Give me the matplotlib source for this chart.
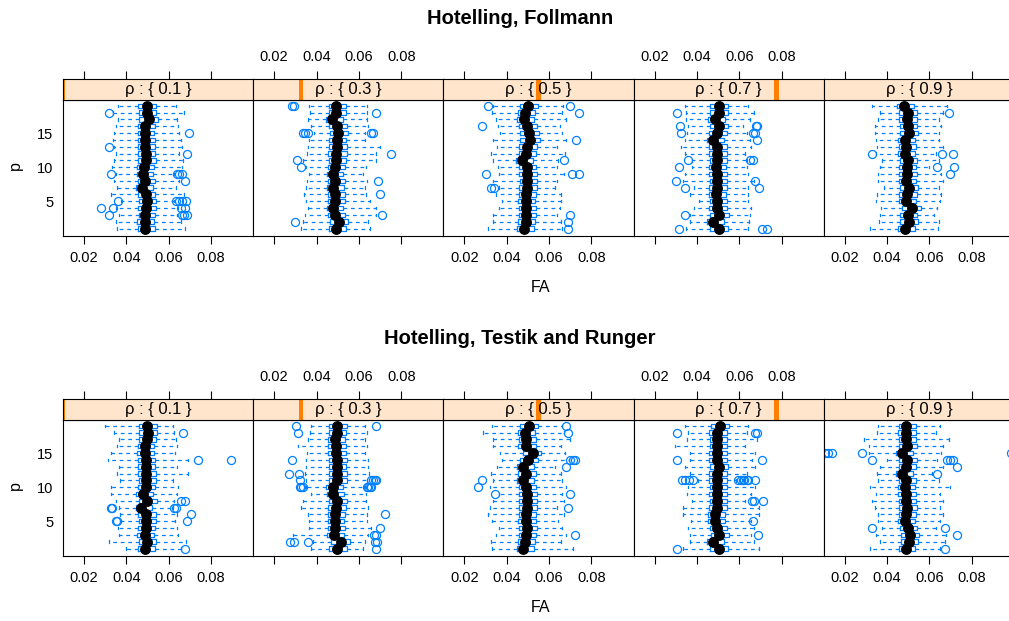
import matplotlib
matplotlib.use("Agg")
import matplotlib.pyplot as plt
from matplotlib.patches import Rectangle

plt.rcParams["font.family"] = ["Liberation Sans", "DejaVu Sans"]

# ── data: false-alarm rate (FA) per dimension p, one list per rho panel ──────

P = list(range(1, 20))
RHO = ["0.1", "0.3", "0.5", "0.7", "0.9"]
TITLES = ["Hotelling, Follmann", "Hotelling, Testik and Runger"]
XTICKS = [0.02, 0.04, 0.06, 0.08]
YTICKS = [5, 10, 15]

# Follmann
FOLL_MED = [
    [.0487, .0487, .0489, .0491, .0497, .0491, .0473, .0489, .0478, .0484, .0491, .0491, .0487, .0487, .0487, .0489, .0506, .0497, .0497],
    [.0494, .0506, .0486, .0478, .0486, .0486, .0478, .0486, .0478, .0486, .0491, .0494, .0497, .0497, .0502, .0497, .0475, .0494, .0494],
    [.0481, .0489, .0489, .0491, .0489, .0491, .0497, .0497, .0497, .0494, .0470, .0491, .0497, .0509, .0506, .0497, .0481, .0486, .0502],
    [.0502, .0478, .0506, .0497, .0497, .0491, .0497, .0497, .0497, .0491, .0497, .0497, .0497, .0478, .0494, .0502, .0486, .0502, .0502],
    [.0486, .0502, .0498, .0517, .0489, .0494, .0502, .0489, .0494, .0494, .0498, .0483, .0489, .0486, .0502, .0498, .0494, .0498, .0478],
]
FOLL_Q1 = [
    [.0455, .0452, .0458, .0456, .0460, .0455, .0448, .0456, .0452, .0450, .0457, .0455, .0453, .0455, .0454, .0456, .0462, .0458, .0455],
    [.0458, .0463, .0452, .0448, .0455, .0453, .0450, .0452, .0448, .0455, .0458, .0456, .0460, .0458, .0462, .0457, .0446, .0457, .0458],
    [.0450, .0455, .0456, .0457, .0455, .0458, .0460, .0462, .0460, .0457, .0445, .0456, .0458, .0465, .0463, .0460, .0448, .0452, .0462],
    [.0462, .0448, .0463, .0458, .0460, .0455, .0458, .0460, .0457, .0455, .0460, .0456, .0458, .0447, .0455, .0463, .0452, .0460, .0462],
    [.0452, .0462, .0460, .0470, .0455, .0458, .0462, .0455, .0458, .0456, .0460, .0450, .0455, .0452, .0463, .0460, .0456, .0458, .0446],
]
FOLL_Q3 = [
    [.0535, .0532, .0536, .0538, .0540, .0535, .0525, .0536, .0528, .0532, .0538, .0537, .0534, .0535, .0533, .0537, .0548, .0542, .0540],
    [.0540, .0548, .0533, .0527, .0533, .0535, .0528, .0533, .0527, .0534, .0540, .0545, .0544, .0540, .0547, .0542, .0525, .0540, .0538],
    [.0528, .0535, .0536, .0538, .0534, .0537, .0543, .0545, .0542, .0540, .0522, .0538, .0543, .0555, .0550, .0543, .0530, .0534, .0546],
    [.0547, .0528, .0550, .0543, .0540, .0537, .0542, .0544, .0541, .0537, .0543, .0540, .0542, .0526, .0540, .0547, .0533, .0545, .0546],
    [.0532, .0547, .0543, .0560, .0535, .0540, .0547, .0535, .0540, .0538, .0543, .0530, .0535, .0532, .0548, .0543, .0540, .0543, .0525],
]
FOLL_LO = [
    [.0356, .0352, .0365, .0352, .0376, .0329, .0356, .0344, .0352, .0334, .0340, .0349, .0344, .0337, .0344, .0349, .0360, .0337, .0360],
    [.0329, .0337, .0344, .0360, .0352, .0340, .0349, .0356, .0365, .0352, .0337, .0356, .0360, .0365, .0387, .0376, .0360, .0371, .0365],
    [.0313, .0334, .0334, .0365, .0376, .0349, .0365, .0337, .0365, .0360, .0337, .0324, .0356, .0337, .0368, .0360, .0349, .0329, .0337],
    [.0349, .0365, .0365, .0384, .0412, .0365, .0384, .0334, .0344, .0376, .0376, .0344, .0324, .0344, .0352, .0360, .0349, .0349, .0344],
    [.0321, .0360, .0368, .0373, .0348, .0352, .0384, .0357, .0357, .0368, .0376, .0348, .0352, .0348, .0341, .0341, .0357, .0368, .0329],
]
FOLL_HI = [
    [.0679, .0659, .0638, .0643, .0627, .0670, .0635, .0651, .0627, .0663, .0666, .0651, .0663, .0659, .0651, .0643, .0638, .0670, .0635],
    [.0654, .0643, .0682, .0679, .0651, .0635, .0627, .0638, .0619, .0635, .0679, .0682, .0701, .0627, .0627, .0643, .0638, .0638, .0638],
    [.0659, .0654, .0635, .0651, .0654, .0654, .0627, .0635, .0670, .0638, .0643, .0674, .0635, .0682, .0659, .0651, .0679, .0663, .0666],
    [.0643, .0648, .0651, .0654, .0643, .0643, .0643, .0670, .0643, .0638, .0635, .0627, .0654, .0651, .0638, .0619, .0651, .0670, .0643],
    [.0640, .0646, .0619, .0635, .0651, .0655, .0646, .0666, .0655, .0596, .0646, .0630, .0662, .0643, .0646, .0655, .0646, .0662, .0682],
]
FOLL_OUT = [
    {3: [.0318, .0663, .0674, .0685], 4: [.0279, .0337, .0659, .0679], 5: [.0360, .0635, .0648, .0663, .0683],
     8: [.0678], 9: [.0329, .0640, .0651, .0663], 12: [.0687], 13: [.0318], 15: [.0698], 18: [.0318]},
    {2: [.0300], 3: [.0709], 6: [.0698], 8: [.0690], 10: [.0329], 11: [.0310], 12: [.0750],
     15: [.0337, .0344, .0360, .0659, .0666], 18: [.0679], 19: [.0286, .0294]},
    {1: [.0690], 2: [.0690], 3: [.0701], 7: [.0324, .0340], 9: [.0302, .0710, .0742], 11: [.0670],
     14: [.0726], 16: [.0282], 18: [.0742], 19: [.0313, .0701]},
    {1: [.0313, .0706, .0729], 3: [.0345], 7: [.0345, .0695], 8: [.0302, .0674], 10: [.0313],
     11: [.0356, .0651, .0663], 14: [.0682], 15: [.0324, .0663, .0672], 16: [.0321, .0679, .0685], 18: [.0305]},
    {9: [.0698], 10: [.0635, .0718], 12: [.0329, .0659, .0709], 18: [.0690]},
]

# Testik and Runger
TR_MED = [
    [.0486, .0497, .0486, .0491, .0494, .0494, .0470, .0497, .0478, .0491, .0494, .0494, .0491, .0491, .0486, .0486, .0497, .0502, .0497],
    [.0497, .0517, .0481, .0486, .0486, .0486, .0491, .0497, .0478, .0478, .0497, .0497, .0497, .0497, .0494, .0491, .0486, .0497, .0497],
    [.0475, .0486, .0491, .0497, .0491, .0491, .0497, .0497, .0497, .0491, .0478, .0491, .0478, .0502, .0522, .0491, .0491, .0486, .0506],
    [.0506, .0478, .0506, .0497, .0486, .0486, .0497, .0497, .0494, .0497, .0497, .0497, .0502, .0494, .0497, .0497, .0497, .0497, .0509],
    [.0489, .0505, .0509, .0498, .0483, .0489, .0494, .0489, .0489, .0486, .0489, .0470, .0489, .0494, .0470, .0494, .0489, .0489, .0489],
]
TR_Q1 = [
    [.0455, .0460, .0452, .0456, .0458, .0457, .0446, .0460, .0448, .0455, .0458, .0457, .0455, .0456, .0452, .0453, .0460, .0462, .0458],
    [.0460, .0470, .0450, .0453, .0452, .0455, .0456, .0460, .0448, .0447, .0458, .0460, .0458, .0460, .0456, .0455, .0452, .0458, .0460],
    [.0448, .0455, .0456, .0460, .0455, .0456, .0460, .0460, .0458, .0456, .0448, .0455, .0448, .0462, .0475, .0455, .0456, .0452, .0463],
    [.0463, .0447, .0465, .0460, .0452, .0452, .0458, .0460, .0457, .0460, .0458, .0458, .0463, .0456, .0458, .0460, .0460, .0458, .0466],
    [.0455, .0465, .0467, .0460, .0450, .0455, .0457, .0455, .0453, .0452, .0455, .0440, .0455, .0458, .0440, .0458, .0455, .0453, .0455],
]
TR_Q3 = [
    [.0535, .0542, .0532, .0537, .0540, .0538, .0522, .0543, .0528, .0536, .0540, .0538, .0536, .0537, .0533, .0532, .0542, .0545, .0543],
    [.0543, .0557, .0528, .0533, .0532, .0535, .0537, .0542, .0528, .0526, .0542, .0543, .0540, .0543, .0540, .0537, .0533, .0540, .0543],
    [.0528, .0533, .0537, .0542, .0537, .0538, .0542, .0543, .0541, .0538, .0527, .0536, .0527, .0546, .0560, .0538, .0537, .0532, .0548],
    [.0548, .0528, .0550, .0543, .0533, .0532, .0542, .0542, .0540, .0543, .0543, .0543, .0547, .0540, .0542, .0543, .0543, .0542, .0552],
    [.0533, .0548, .0550, .0543, .0530, .0535, .0540, .0535, .0535, .0532, .0535, .0520, .0535, .0540, .0520, .0540, .0535, .0535, .0535],
]
TR_LO = [
    [.0399, .0318, .0365, .0360, .0376, .0371, .0365, .0349, .0329, .0329, .0371, .0356, .0365, .0313, .0329, .0356, .0365, .0344, .0297],
    [.0376, .0384, .0290, .0365, .0365, .0360, .0329, .0337, .0376, .0349, .0349, .0344, .0352, .0349, .0356, .0313, .0360, .0368, .0376],
    [.0329, .0324, .0349, .0365, .0329, .0313, .0321, .0337, .0365, .0321, .0337, .0324, .0356, .0376, .0368, .0334, .0334, .0290, .0329],
    [.0334, .0368, .0365, .0356, .0371, .0334, .0334, .0376, .0352, .0360, .0407, .0368, .0344, .0365, .0365, .0297, .0352, .0356, .0344],
    [.0321, .0368, .0348, .0376, .0357, .0357, .0344, .0329, .0348, .0321, .0357, .0352, .0368, .0399, .0313, .0316, .0290, .0352, .0357],
]
TR_HI = [
    [.0659, .0682, .0643, .0638, .0632, .0638, .0619, .0627, .0638, .0643, .0619, .0690, .0638, .0690, .0632, .0638, .0635, .0627, .0622],
    [.0619, .0627, .0643, .0659, .0638, .0638, .0643, .0635, .0635, .0627, .0638, .0648, .0643, .0643, .0627, .0638, .0627, .0638, .0627],
    [.0714, .0654, .0679, .0659, .0643, .0670, .0638, .0670, .0663, .0679, .0663, .0654, .0627, .0695, .0674, .0654, .0698, .0670, .0659],
    [.0695, .0670, .0654, .0670, .0654, .0695, .0695, .0627, .0654, .0674, .0585, .0635, .0674, .0659, .0674, .0627, .0682, .0635, .0643],
    [.0651, .0674, .0677, .0630, .0651, .0662, .0651, .0662, .0651, .0698, .0646, .0612, .0662, .0635, .0655, .0662, .0690, .0630, .0651],
]
TR_OUT = [
    {1: [.0679], 5: [.0349, .0356, .0685], 6: [.0706], 7: [.0329, .0334, .0627, .0635], 8: [.0659, .0679],
     14: [.0737, .0894], 18: [.0667]},
    {1: [.0679], 2: [.0277, .0293, .0360, .0674, .0685], 3: [.0670, .0679], 4: [.0701], 6: [.0721],
     10: [.0321, .0329, .0334, .0638, .0643, .0651, .0659], 11: [.0321, .0659, .0666, .0674, .0682],
     12: [.0271, .0318], 14: [.0282], 18: [.0313], 19: [.0302, .0679]},
    {3: [.0721], 7: [.0690], 9: [.0345, .0701], 10: [.0266], 11: [.0282], 13: [.0679],
     14: [.0701, .0714, .0721], 18: [.0690], 19: [.0679]},
    {1: [.0305], 3: [.0690], 5: [.0663], 8: [.0659, .0670, .0714],
     11: [.0329, .0345, .0363, .0381, .0596, .0608, .0617, .0624, .0635, .0642, .0674],
     14: [.0305, .0706], 18: [.0305, .0674, .0682]},
    {1: [.0671], 3: [.0729], 4: [.0329, .0671], 12: [.0635], 13: [.0729],
     14: [.0329, .0682, .0698, .0709], 15: [.0106, .0121, .0140, .0279, .0985]},
]

GROUPS = [
    (FOLL_LO, FOLL_Q1, FOLL_MED, FOLL_Q3, FOLL_HI, FOLL_OUT),
    (TR_LO, TR_Q1, TR_MED, TR_Q3, TR_HI, TR_OUT),
]

# ── styling ──────────────────────────────────────────────────────────────────

W, H = 1009, 621
BLUE = "#0080ff"
STRIP_BG = "#ffe5cc"
ORANGE = "#ff7f00"
XLIM = (0.0101, 0.0999)
YLIM = (-0.1, 19.85)

PANEL_X0 = 63
PANEL_W = 190.2
GROUP_DY = 320          # vertical shift of the second block
STRIP_TOP, PANEL_TOP, PANEL_BOT = 79, 100, 236


def px_axes(fig, x0, y0, x1, y1):
    return fig.add_axes([x0 / W, 1 - y1 / H, (x1 - x0) / W, (y1 - y0) / H])


def draw_panel(ax, lo, q1, med, q3, hi, out):
    stats = []
    for i, p in enumerate(P):
        stats.append(dict(whislo=lo[i], q1=q1[i], med=med[i], q3=q3[i],
                          whishi=hi[i], fliers=out.get(p, [])))
    ax.bxp(stats, positions=P, orientation="horizontal", widths=0.65,
           capwidths=0.35, manage_ticks=False,
           boxprops=dict(color=BLUE, linewidth=0.9),
           whiskerprops=dict(color=BLUE, linewidth=0.9, linestyle=(0, (3, 3))),
           capprops=dict(color=BLUE, linewidth=0.9),
           medianprops=dict(color=BLUE, linewidth=0.9),
           flierprops=dict(marker="o", markerfacecolor="none",
                           markeredgecolor=BLUE, markersize=5.8, markeredgewidth=0.9))
    ax.plot(med, P, color="black", linewidth=2.8, marker="o",
            markersize=6.8, zorder=5)


fig = plt.figure(figsize=(W / 100, H / 100), dpi=100)

for g, (lo_all, q1_all, med_all, q3_all, hi_all, out_all) in enumerate(GROUPS):
    dy = g * GROUP_DY
    for k, rho in enumerate(RHO):
        x0 = PANEL_X0 + k * PANEL_W
        x1 = x0 + PANEL_W

        ax = px_axes(fig, x0, PANEL_TOP + dy, x1, PANEL_BOT + dy)
        draw_panel(ax, lo_all[k], q1_all[k], med_all[k], q3_all[k],
                   hi_all[k], out_all[k])
        ax.set_xlim(*XLIM)
        ax.set_ylim(*YLIM)
        ax.set_xticks(XTICKS)
        ax.set_xticklabels([f"{t:.2f}" for t in XTICKS])
        ax.tick_params(axis="x", direction="out", length=6, width=0.8,
                       pad=5, labelsize=10.5, labelbottom=(k % 2 == 0))
        if k == 0:
            ax.set_yticks(YTICKS)
            ax.tick_params(axis="y", length=0, pad=7, labelsize=10.5)
        else:
            ax.set_yticks([])
        for sp in ax.spines.values():
            sp.set_linewidth(0.8)

        # strip with the rho level and its position marker
        st = px_axes(fig, x0, STRIP_TOP + dy, x1, PANEL_TOP + dy)
        st.set_facecolor(STRIP_BG)
        st.set_xlim(*XLIM)
        st.set_yticks([])
        st.set_xticks(XTICKS)
        st.tick_params(axis="x", direction="out", length=6, width=0.8, pad=5,
                       labelsize=10.5, bottom=False, labelbottom=False,
                       top=True, labeltop=(k % 2 == 1))
        st.set_xticklabels([f"{t:.2f}" for t in XTICKS])
        bw = 4.5 / PANEL_W
        st.add_patch(Rectangle((k / 4 - bw / 2, 0), bw, 1, transform=st.transAxes,
                               facecolor=ORANGE, edgecolor="none", clip_on=True))
        st.text(0.5, 0.48, "\u03c1 : { " + rho + " }", transform=st.transAxes,
                ha="center", va="center", fontsize=12)
        for sp in st.spines.values():
            sp.set_linewidth(0.8)

    fig.text(520 / W, 1 - (18 + dy) / H, TITLES[g], ha="center", va="center",
             fontsize=14.5, fontweight="bold")
    fig.text(541 / W, 1 - (287 + dy) / H, "FA", ha="center", va="center",
             fontsize=11.5)
    fig.text(15 / W, 1 - (166 + dy) / H, "p", ha="center", va="center",
             fontsize=11.5, rotation=90)

fig.savefig("out.png", dpi=100)
